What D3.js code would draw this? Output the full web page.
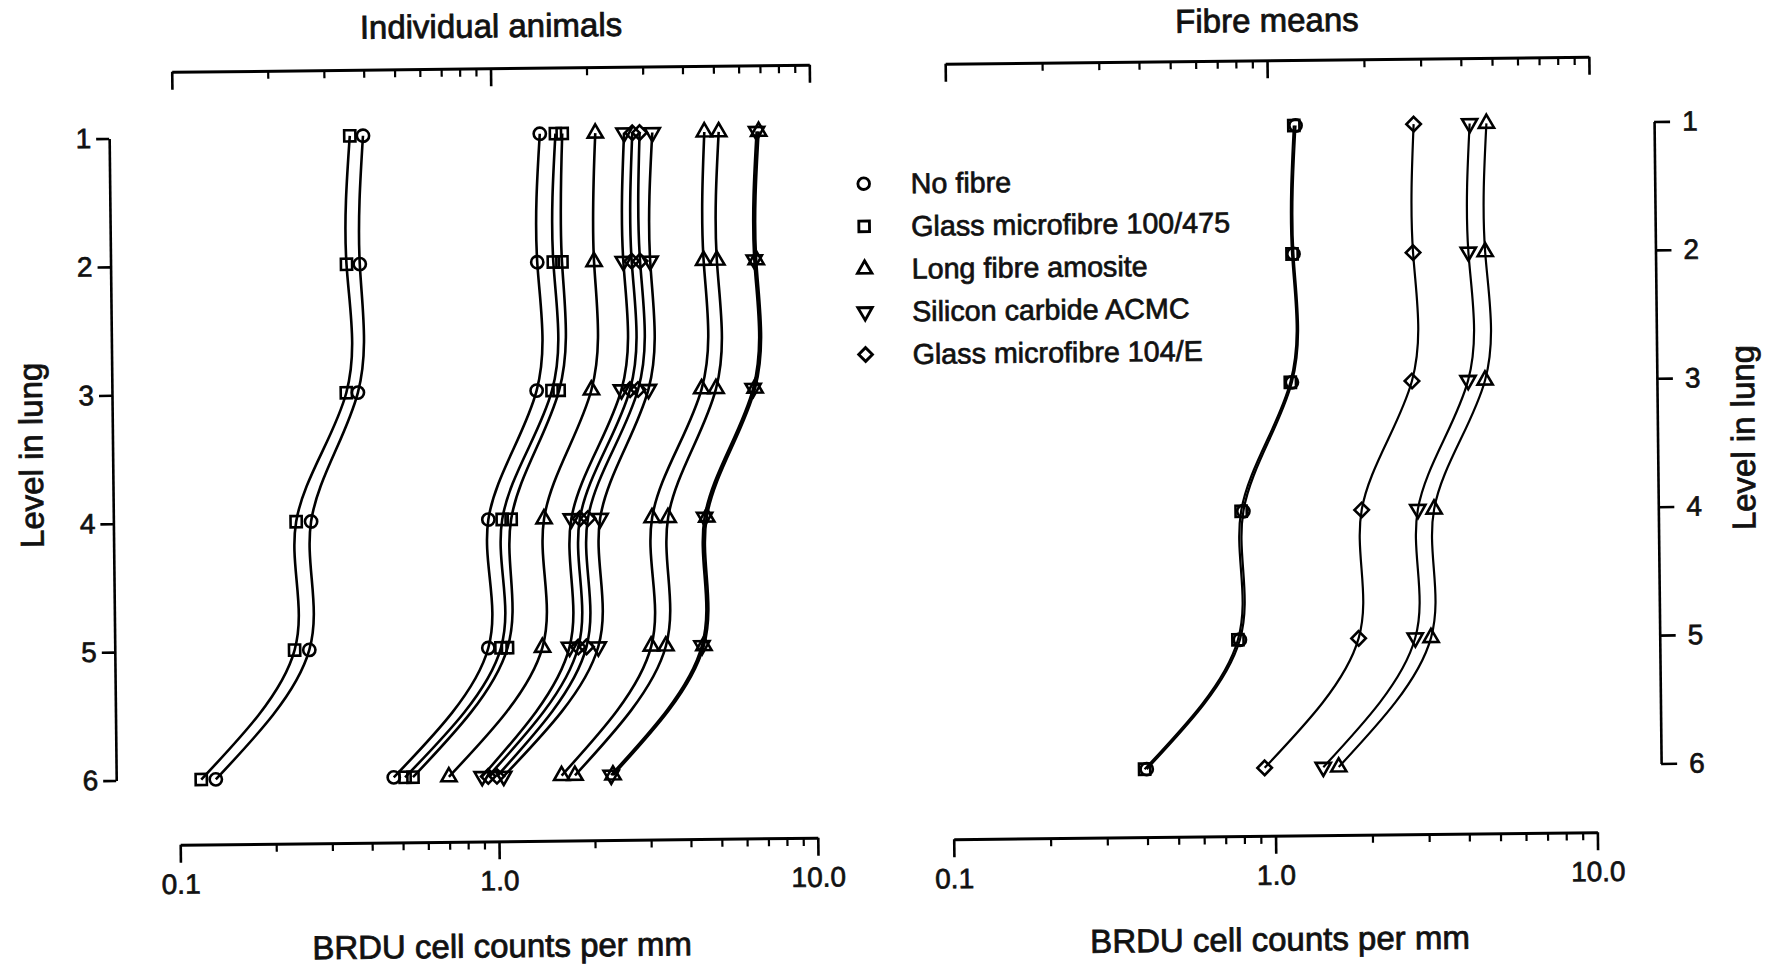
<!DOCTYPE html>
<html><head><meta charset="utf-8">
<script src="https://cdn.jsdelivr.net/npm/d3@7"></script>
<style>
html,body{margin:0;padding:0;background:#fff;}
svg{display:block;}
</style></head><body>
<svg id="chart" width="1771" height="968"></svg>
<script>
// ---------------- data ----------------
const levels = [1, 2, 3, 4, 5, 6];
const levelTickLabels = ["1", "2", "3", "4", "5", "6"];
const xTickValues = [0.1, 1, 10];
const xTickLabels = ["0.1", "1.0", "10.0"];
const minorTickValues = [0.2, 0.3, 0.4, 0.5, 0.6, 0.7, 0.8, 0.9, 2, 3, 4, 5, 6, 7, 8, 9];

const fibreNames = ["No fibre", "Glass microfibre 100/475", "Long fibre amosite", "Silicon carbide ACMC", "Glass microfibre 104/E"];
const fibreSymbols = ["circle", "square", "triangle", "triangleDown", "diamond"];

// Individual animals (BRDU cell counts per mm at lung levels 1..6)
const noFibreA    = [0.396, 0.383, 0.374, 0.264, 0.258, 0.130];
const glass100A   = [0.360, 0.348, 0.344, 0.237, 0.232, 0.117];
const noFibreB    = [1.42, 1.38, 1.36, 0.95, 0.94, 0.47];
const glass100B   = [1.59, 1.55, 1.52, 1.05, 1.03, 0.51];
const glass100C   = [1.67, 1.65, 1.60, 1.12, 1.08, 0.54];
const amositeA    = [2.12, 2.08, 2.02, 1.42, 1.39, 0.70];
const sicA        = [2.61, 2.57, 2.51, 1.73, 1.69, 0.89];
const glass104A   = [2.77, 2.73, 2.67, 1.84, 1.80, 0.93];
const glass104B   = [2.92, 2.90, 2.83, 1.95, 1.91, 0.99];
const sicB        = [3.20, 3.12, 3.05, 2.13, 2.08, 1.04];
const amositeB    = [4.66, 4.59, 4.48, 3.10, 3.05, 1.58];
const amositeC    = [5.17, 5.05, 4.97, 3.48, 3.39, 1.74];
const amositeD    = [6.90, 6.71, 6.59, 4.60, 4.46, 2.29];
const sicC        = [6.80, 6.62, 6.50, 4.53, 4.40, 2.26];

const animals = [
  {fibre: 0, values: noFibreA}, {fibre: 1, values: glass100A},
  {fibre: 0, values: noFibreB}, {fibre: 1, values: glass100B}, {fibre: 1, values: glass100C},
  {fibre: 2, values: amositeA},
  {fibre: 3, values: sicA}, {fibre: 4, values: glass104A}, {fibre: 4, values: glass104B}, {fibre: 3, values: sicB},
  {fibre: 2, values: amositeB}, {fibre: 2, values: amositeC},
  {fibre: 2, values: amositeD}, {fibre: 3, values: sicC}
];

// Fibre means
const noFibreMean  = [1.22, 1.19, 1.165, 0.815, 0.787, 0.400];
const glass100Mean = [1.205, 1.178, 1.152, 0.802, 0.776, 0.394];
const amositeMean  = [4.78, 4.69, 4.64, 3.19, 3.09, 1.58];
const sicMean      = [4.24, 4.16, 4.11, 2.84, 2.76, 1.415];
const glass104Mean = [2.84, 2.80, 2.75, 1.90, 1.84, 0.93];

const means = [
  {fibre: 0, values: noFibreMean}, {fibre: 1, values: glass100Mean},
  {fibre: 4, values: glass104Mean}, {fibre: 3, values: sicMean}, {fibre: 2, values: amositeMean}
];

// ---------------- layout ----------------
const FONT = '"Liberation Sans", Arial, Helvetica, sans-serif';
const INK = "#111";
const svg = d3.select("#chart");
const root = svg.append("g").attr("transform", "rotate(-0.63,885,484)");

const yLevel = d3.scaleLinear().domain([1, 6]).range([130, 772]);
const xLeft = d3.scaleLog().domain([0.1, 10]).range([176.3, 813.9]);
const xRight = d3.scaleLog().domain([0.1, 10]).range([949.8, 1593.5]);

function heavy(sel, w) {
  return sel.attr("fill", INK).attr("stroke", INK).attr("stroke-width", w).attr("paint-order", "stroke");
}

function symbolPath(name) {
  if (name === "circle") return d3.symbol().type(d3.symbolCircle).size(118)();
  if (name === "square") return d3.symbol().type(d3.symbolSquare).size(125)();
  if (name === "triangle" || name === "triangleDown") return d3.symbol().type(d3.symbolTriangle).size(100)();
  if (name === "diamond") return d3.symbol().type(d3.symbolSquare).size(105)();
}
function symbolRotate(name) {
  if (name === "triangleDown") return 180;
  if (name === "diamond") return 45;
  return 0;
}

function xAxis(g, scale, y, withLabels, labelY) {
  const major = d3.axisBottom(scale).tickValues(xTickValues).tickSize(18).tickSizeOuter(0)
    .tickFormat((d, i) => withLabels ? xTickLabels[i] : "");
  const gm = g.append("g").attr("transform", `translate(0,${y})`).call(major)
    .attr("font-family", FONT);
  gm.select(".domain").attr("stroke", "#000").attr("stroke-width", 3);
  gm.selectAll(".tick line").attr("stroke", "#000").attr("stroke-width", 2.6);
  heavy(gm.selectAll(".tick text").attr("font-size", 28).attr("y", labelY).attr("dy", 0), 0.7);
  const minor = d3.axisBottom(scale).tickValues(minorTickValues).tickSize(8).tickSizeOuter(0).tickFormat("");
  const gn = g.append("g").attr("transform", `translate(0,${y})`).call(minor);
  gn.select(".domain").remove();
  gn.selectAll(".tick line").attr("stroke", "#000").attr("stroke-width", 2.2);
}

function drawSeries(g, scale, list, lineW) {
  const line = d3.line()
    .x(d => scale(d))
    .y((d, i) => yLevel(levels[i]))
    .curve(d3.curveNatural);
  g.selectAll("path.series").data(list).enter().append("path")
    .attr("class", "series")
    .attr("d", s => line(s.values))
    .attr("fill", "none").attr("stroke", "#000").attr("stroke-width", lineW);
  list.forEach(s => {
    const sym = fibreSymbols[s.fibre];
    g.selectAll(null).data(s.values).enter().append("path")
      .attr("d", symbolPath(sym))
      .attr("transform", (d, i) => `translate(${scale(d)},${yLevel(levels[i])}) rotate(${symbolRotate(sym)})`)
      .attr("fill", "none").attr("stroke", "#000").attr("stroke-width", 2.6);
  });
}

function label(g, x, y, txt, size, rot) {
  const t = g.append("text").attr("text-anchor", "middle")
    .attr("font-family", FONT).attr("font-size", size).text(txt);
  t.attr("transform", `translate(${x},${y})` + (rot ? ` rotate(${rot})` : ""));
  heavy(t, 0.8);
  return t;
}

// ---------------- left panel ----------------
const gL = root.append("g");
label(gL, 496, 33, "Individual animals", 33, 0);
xAxis(gL, xLeft, 64, false, 0);
xAxis(gL, xLeft, 837, true, 49);
label(gL, 497, 953, "BRDU cell counts per mm", 33, 0);

const yAxL = d3.axisLeft(yLevel).tickValues(levels).tickSize(13).tickSizeOuter(0).tickPadding(5)
  .tickFormat((d, i) => levelTickLabels[i]);
const gyl = gL.append("g").attr("transform", "translate(113,0)").call(yAxL).attr("font-family", FONT);
gyl.select(".domain").attr("stroke", "#000").attr("stroke-width", 2.6);
gyl.selectAll(".tick line").attr("stroke", "#000").attr("stroke-width", 2.6);
heavy(gyl.selectAll(".tick text").attr("font-size", 28), 0.7);

label(gL, 43, 446, "Level in lung", 33, -90);

drawSeries(gL.append("g"), xLeft, animals, 2.6);

// ---------------- legend ----------------
const gLeg = root.append("g");
fibreNames.forEach((name, i) => {
  const yy = 183.5 + i * 42.7;
  const sym = fibreSymbols[i];
  gLeg.append("path").attr("d", symbolPath(sym))
    .attr("transform", `translate(867,${yy}) rotate(${symbolRotate(sym)}) scale(0.95)`)
    .attr("fill", "none").attr("stroke", "#000").attr("stroke-width", 3);
  const t = gLeg.append("text").attr("x", 914).attr("y", yy + 10).attr("font-family", FONT)
    .attr("font-size", 28.7).text(name);
  heavy(t, 0.7);
});

// ---------------- right panel ----------------
const gR = root.append("g");
label(gR, 1272, 36, "Fibre means", 33, 0);
xAxis(gR, xRight, 64.5, false, 0);
xAxis(gR, xRight, 840, true, 49);
label(gR, 1275, 955, "BRDU cell counts per mm", 33, 0);

const yAxR = d3.axisRight(yLevel).tickValues(levels).tickSize(16).tickSizeOuter(0).tickPadding(12)
  .tickFormat((d, i) => levelTickLabels[i]);
const gyr = gR.append("g").attr("transform", "translate(1658,0)").call(yAxR).attr("font-family", FONT);
gyr.select(".domain").attr("stroke", "#000").attr("stroke-width", 2.6);
gyr.selectAll(".tick line").attr("stroke", "#000").attr("stroke-width", 2.6);
heavy(gyr.selectAll(".tick text").attr("font-size", 28), 0.7);

label(gR, 1755, 447, "Level in lung", 33, -90);

drawSeries(gR.append("g"), xRight, means, 2.2);
</script>
</body></html>
